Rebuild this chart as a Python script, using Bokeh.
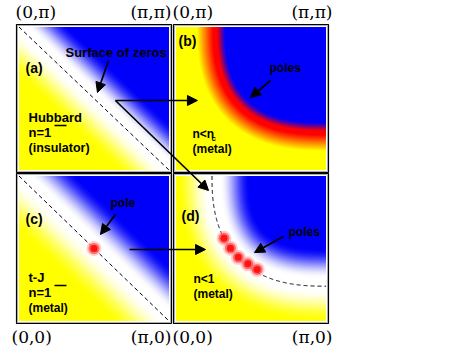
import numpy as np
from bokeh.plotting import figure
from bokeh.models import Range1d, Arrow, NormalHead
from bokeh.embed import file_html
from bokeh.resources import INLINE
from bokeh.core.properties import value

# ---------------- data ----------------
panel_names = ["a", "b", "c", "d"]
panel_tags = ["(a)", "(b)", "(c)", "(d)"]
top_left_labels = ["(0,π)", "(0,π)"]
top_right_labels = ["(π,π)", "(π,π)"]
bottom_left_labels = ["(0,0)", "(0,0)"]
bottom_right_labels = ["(π,0)", "(π,0)"]

# Fermi-surface-like contours (units of pi), centred on (pi,pi)
fs_b_radius = 0.74
fs_b_power = 2.6
fs_d_radius = 0.76
fs_d_power = 2.5

# pole positions (units of pi)
pole_c_kx = [0.50]
pole_c_ky = [0.50]
poles_d_kx = [0.320, 0.363, 0.415, 0.479, 0.541]
poles_d_ky = [0.571, 0.502, 0.439, 0.394, 0.356]

# arrows: (panel, kx, ky) -> (panel, kx, ky)
arrows = [
    (("a", 0.597, 0.766), ("a", 0.523, 0.542)),
    (("a", 0.643, 0.486), ("b", 0.143, 0.486)),
    (("a", 0.643, 0.486), ("d", 0.217, 0.900)),
    (("b", 0.630, 0.626), ("b", 0.497, 0.507)),
    (("c", 0.643, 0.734), ("c", 0.543, 0.597)),
    (("c", 0.737, 0.493), ("d", 0.197, 0.493)),
    (("d", 0.717, 0.583), ("d", 0.523, 0.472)),
]

# ---------------- layout (page pixels) ----------------
W, H = 463, 347
outer = {"a": (16, 24, 171, 172), "b": (173, 24, 328, 172),
         "c": (16, 173, 171, 323), "d": (173, 173, 328, 323)}
INSET = 2.5


def inner(name):
    l, t, r, b = outer[name]
    return l + INSET, t + INSET, r - INSET, b - INSET


def X(name, kx):
    l, t, r, b = inner(name)
    return l + np.asarray(kx) * (r - l)


def Y(name, ky):
    l, t, r, b = inner(name)
    return H - (b - np.asarray(ky) * (b - t))


def py(y):
    return H - y


YEL = np.array([255, 255, 0.0])
WHI = np.array([255, 255, 255.0])
BLU = np.array([0, 0, 250.0])
RED = np.array([255, 0, 0.0])


def mix(c1, c2, t):
    t = t[..., None]
    return c1 * (1 - t) + c2 * t


def smooth(t):
    t = np.clip(t, 0, 1)
    return t * t * (3 - 2 * t)


def to_rgba(rgb):
    ny, nx, _ = rgb.shape
    arr = np.zeros((ny, nx, 4), dtype=np.uint8)
    arr[..., :3] = np.clip(rgb, 0, 255).astype(np.uint8)
    arr[..., 3] = 255
    return arr.view(dtype=np.uint32).reshape((ny, nx))


def grid(name):
    l, t, r, b = inner(name)
    nx, ny = int(round(r - l)), int(round(b - t))
    kx = (np.arange(nx) + 0.5) / nx
    ky = (np.arange(ny) + 0.5) / ny
    KX, KY = np.meshgrid(kx, ky)
    return KX, KY, (r - l), (b - t)


def superellipse(a, pw, n=400):
    th = np.linspace(0, np.pi / 2, n)
    kx = 1 - a * np.cos(th) ** (2 / pw)
    ky = 1 - a * np.sin(th) ** (2 / pw)
    return kx, ky


def curve_dist(name, a, pw):
    """signed pixel distance to contour: negative outside (low-k side), positive inside"""
    KX, KY, sx, sy = grid(name)
    cx, cy = superellipse(a, pw, 300)
    PX, PY = KX * sx, KY * sy
    d = np.full(KX.shape, 1e9)
    for x0, y0 in zip(cx * sx, cy * sy):
        d = np.minimum(d, np.hypot(PX - x0, PY - y0))
    r = (((1 - KX) / a) ** pw + ((1 - KY) / a) ** pw) ** (1 / pw)
    return np.where(r > 1, -d, d)


def diag_dist(name):
    KX, KY, sx, sy = grid(name)
    return (KX + KY - 1) / np.sqrt(1 / sx ** 2 + 1 / sy ** 2)


def field_zero(d, y0, y1, b0, b1):
    ty = smooth((-d - y0) / (y1 - y0))
    tb = smooth((d - b0) / (b1 - b0))
    return np.where((d < 0)[..., None], mix(WHI, YEL, ty), mix(WHI, BLU, tb))


def field_pole_band(d):
    ty = np.clip((-d - 2) / 16, 0, 1)
    tb = np.clip((d - 2) / 8, 0, 1)
    return np.where((d <= 0)[..., None], mix(RED, YEL, ty), mix(RED, BLU, tb))


images = {
    "a": field_zero(diag_dist("a"), 3, 36, 6, 34),
    "b": field_pole_band(curve_dist("b", fs_b_radius, fs_b_power)),
    "c": field_zero(diag_dist("c"), 3, 40, 8, 40),
    "d": field_zero(curve_dist("d", fs_d_radius, fs_d_power), 3, 36, 8, 38),
}

# ---------------- figure ----------------
p = figure(width=W, height=H, x_range=Range1d(0, W), y_range=Range1d(0, H),
           output_backend="svg", toolbar_location=None, min_border=0,
           x_axis_location=None, y_axis_location=None)
p.grid.visible = False
p.outline_line_color = None
p.background_fill_color = "white"

for name in panel_names:
    l, t, r, b = inner(name)
    p.image_rgba(image=[to_rgba(images[name])], x=l, y=py(b), dw=r - l, dh=b - t)
    ol, ot, orr, ob = outer[name]
    p.quad(left=ol, right=orr, top=py(ot), bottom=py(ob), fill_color=None,
           line_color="black", line_width=1.2)
    p.quad(left=ol + 1, right=orr - 1, top=py(ot + 1), bottom=py(ob - 1), fill_color=None,
           line_color="#9a9a9a", line_width=0.8)

# dashed zero surfaces
for name in ["a", "c"]:
    p.line(X(name, [0, 1]), Y(name, [1, 0]), line_color="black", line_width=1,
           line_dash="4 3")
cx, cy = superellipse(fs_d_radius, fs_d_power)
p.line(X("d", cx), Y("d", cy), line_color="black", line_width=1, line_dash="4 3")

# poles
for name, kxs, kys in [("c", pole_c_kx, pole_c_ky), ("d", poles_d_kx, poles_d_ky)]:
    xs, ys = X(name, kxs), Y(name, kys)
    p.scatter(xs, ys, size=15, fill_color="#ff9090", fill_alpha=0.45, line_color=None)
    p.scatter(xs, ys, size=11, fill_color="#ff4a4a", fill_alpha=0.75, line_color=None)
    p.scatter(xs, ys, size=7, fill_color="#ff1010", fill_alpha=0.95, line_color=None)

# arrows
for (n0, x0, y0), (n1, x1, y1) in arrows:
    p.add_layout(Arrow(end=NormalHead(size=10, fill_color="black", line_color="black"),
                       x_start=float(X(n0, x0)), y_start=float(Y(n0, y0)),
                       x_end=float(X(n1, x1)), y_end=float(Y(n1, y1)),
                       line_color="black", line_width=1.7))

# bold labels (page px positions)
SANS = value("Liberation Sans")


def label(x, y, txt, size="12.5px", align="left"):
    p.text(x=[x], y=[py(y)], text=[txt], text_font=SANS, text_font_style="bold",
           text_font_size=size, text_baseline="middle", text_align=align,
           text_color="black")


tag_pos = {"a": (25, 67), "b": (178, 40), "c": (25, 218), "d": (181, 215)}
for name, tag in zip(panel_names, panel_tags):
    label(tag_pos[name][0], tag_pos[name][1], tag, "14px")

label(65, 52, "Surface of zeros", "13px")
label(28, 117, "Hubbard", "13px")
label(28, 132, "n=1", "13px")
label(28, 147, "(insulator)", "12.5px")
label(269, 67, "poles", "12px")
label(192, 133, "n<n", "12px")
label(211, 138, "c", "8px")
label(192, 148, "(metal)", "12px")
label(110, 202, "pole", "12px")
label(28, 277, "t-J", "13px")
label(28, 292, "n=1", "13px")
label(28, 307, "(metal)", "12px")
label(288, 231, "poles", "12px")
label(193, 278, "n<1", "12px")
label(193, 293, "(metal)", "12px")
# superscript minus bars
p.segment(x0=[54, 54], y0=[py(125), py(285)], x1=[66, 66], y1=[py(125), py(285)],
          line_color="black", line_width=1.3)

# corner coordinate labels (serif)
SERIF = value("DejaVu Serif")


def corner(x, y, txt, align):
    p.text(x=[x], y=[py(y)], text=[txt], text_font=SERIF, text_font_size="17px",
           text_baseline="middle", text_align=align, text_color="black")


corner(15, 11, top_left_labels[0], "left")
corner(171, 11, top_right_labels[0], "right")
corner(172, 11, top_left_labels[1], "left")
corner(332, 11, top_right_labels[1], "right")
corner(11, 336, bottom_left_labels[0], "left")
corner(171, 336, bottom_right_labels[0], "right")
corner(172, 336, bottom_left_labels[1], "left")
corner(332, 336, bottom_right_labels[1], "right")

open("out.html", "w").write(file_html(p, INLINE))
